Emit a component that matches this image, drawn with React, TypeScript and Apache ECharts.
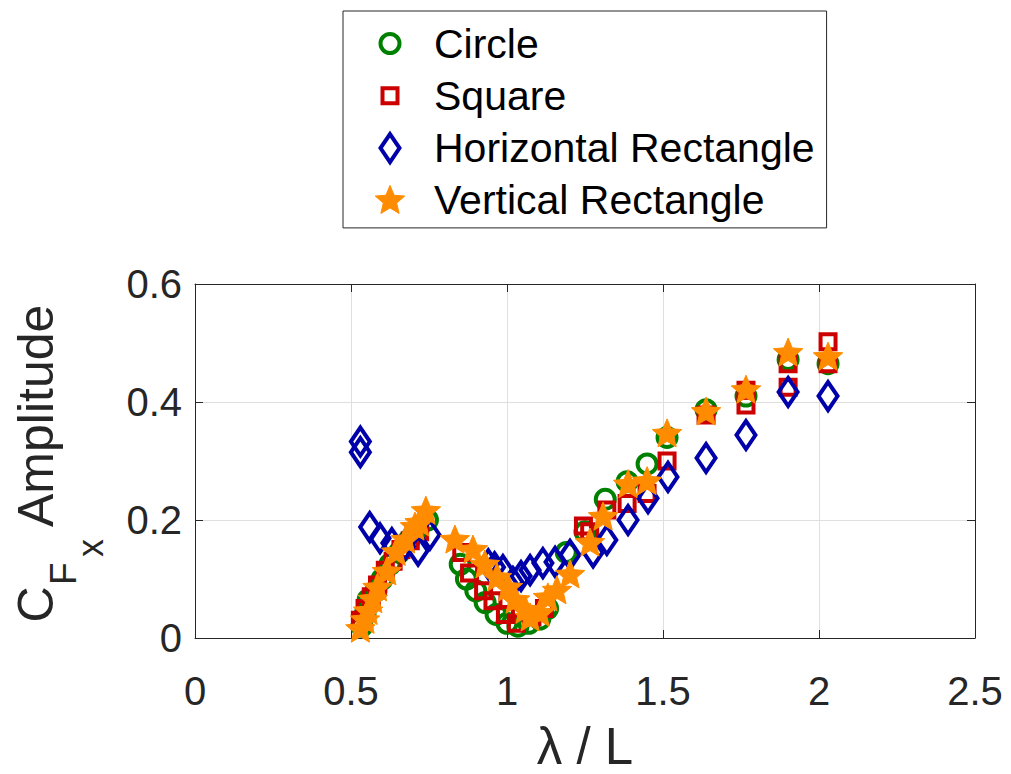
import React, { useEffect, useRef } from "react";
import * as echarts from "echarts";

// ---------- data ----------
const xTicks = [0, 0.5, 1, 1.5, 2, 2.5];
const yTicks = [0, 0.2, 0.4, 0.6];
const seriesNames = ["Circle", "Square", "Horizontal Rectangle", "Vertical Rectangle"];

const circleData = [
  [0.535, 0.02], [0.545, 0.04], [0.555, 0.065], [0.58, 0.08], [0.6, 0.1], [0.625, 0.125],
  [0.655, 0.145], [0.685, 0.165], [0.715, 0.185], [0.745, 0.2],
  [0.85, 0.125], [0.87, 0.1], [0.9, 0.08], [0.93, 0.06], [0.965, 0.04], [1.0, 0.025],
  [1.035, 0.02], [1.07, 0.025], [1.105, 0.032], [1.13, 0.05], [1.19, 0.145], [1.25, 0.18],
  [1.315, 0.235], [1.385, 0.265], [1.449, 0.295], [1.513, 0.34], [1.638, 0.387],
  [1.766, 0.41], [1.901, 0.472], [2.029, 0.465],
];

const squareData = [
  [0.53, 0.03], [0.545, 0.05], [0.565, 0.07], [0.585, 0.09], [0.61, 0.115], [0.635, 0.13],
  [0.66, 0.15], [0.69, 0.165], [0.72, 0.18],
  [0.855, 0.145], [0.88, 0.11], [0.925, 0.08], [0.955, 0.063], [0.995, 0.04], [1.03, 0.025],
  [1.08, 0.036], [1.12, 0.05], [1.245, 0.19], [1.265, 0.18], [1.32, 0.217], [1.385, 0.228],
  [1.449, 0.245], [1.513, 0.3], [1.638, 0.378], [1.766, 0.42], [1.766, 0.395],
  [1.901, 0.465], [1.901, 0.425], [2.029, 0.502], [2.029, 0.465],
];

const diamondData = [
  [0.53, 0.333], [0.53, 0.315], [0.56, 0.188], [0.593, 0.169], [0.631, 0.161], [0.67, 0.155],
  [0.715, 0.148], [0.753, 0.175],
  [0.94, 0.125], [0.96, 0.12], [0.987, 0.115], [1.019, 0.095], [1.045, 0.105], [1.074, 0.115],
  [1.115, 0.127], [1.154, 0.129], [1.202, 0.141], [1.276, 0.145], [1.32, 0.166], [1.388, 0.2],
  [1.452, 0.237], [1.516, 0.273], [1.638, 0.305], [1.766, 0.344], [1.901, 0.417], [2.029, 0.41],
];

const starData = [
  [0.53, 0.015], [0.545, 0.03], [0.555, 0.045], [0.57, 0.065], [0.585, 0.085], [0.615, 0.112],
  [0.645, 0.145], [0.675, 0.166], [0.705, 0.188], [0.72, 0.195], [0.74, 0.215],
  [0.833, 0.166], [0.891, 0.149], [0.929, 0.124], [0.968, 0.102], [1.003, 0.085], [1.026, 0.064],
  [1.058, 0.047], [1.074, 0.034], [1.106, 0.042], [1.131, 0.068], [1.16, 0.08], [1.202, 0.107],
  [1.266, 0.161], [1.308, 0.205], [1.388, 0.26], [1.449, 0.265], [1.513, 0.346], [1.638, 0.383],
  [1.766, 0.42], [1.901, 0.483], [2.029, 0.476],
];

// ---------- styling ----------
const FONT = "'Liberation Sans', Arial, Helvetica, sans-serif";
const AXIS_COLOR = "#262626";
const GRID_COLOR = "#dfdfdf";

// Symbol paths drawn inside a fixed 36x36 box (the lone moveTo points fix the bounding box)
const BOX = "M0 0 M36 36 ";
const circlePath = "path://" + BOX + "M8.5 18 A9.5 9.5 0 1 1 27.5 18 A9.5 9.5 0 1 1 8.5 18 Z";
const squarePath = "path://" + BOX + "M10.5 10.5 L25.5 10.5 L25.5 25.5 L10.5 25.5 Z";
const diamondPath = "path://" + BOX + "M18 4 L27.5 18 L18 32 L8.5 18 Z";
function makeStar(cx: number, cy: number, R: number, r: number) {
  let d = "";
  for (let k = 0; k < 10; k++) {
    const rad = k % 2 === 0 ? R : r;
    const a = (-90 + 36 * k) * Math.PI / 180;
    const px = (cx + rad * Math.cos(a)).toFixed(2);
    const py = (cy + rad * Math.sin(a)).toFixed(2);
    d += (k === 0 ? "M" : "L") + px + " " + py + " ";
  }
  return d + "Z";
}
const starPath = "path://" + BOX + makeStar(18, 18.5, 15.5, 7.0);

const seriesData = [circleData, squareData, diamondData, starData];
const seriesSymbols = [circlePath, squarePath, diamondPath, starPath];
const seriesStyles = [
  { color: "rgba(0,0,0,0)", borderColor: "#008000", borderWidth: 4 },
  { color: "rgba(0,0,0,0)", borderColor: "#cc0000", borderWidth: 4 },
  { color: "rgba(0,0,0,0)", borderColor: "#0000aa", borderWidth: 4 },
  { color: "#ff8c00", borderColor: "#ff8c00", borderWidth: 1 },
];

export default function App() {
  const ref = useRef<HTMLDivElement>(null);

  useEffect(() => {
    document.body.style.margin = "0";
    const chart = echarts.init(ref.current as HTMLDivElement, null, { renderer: "svg" });

    const xMin = xTicks[0];
    const xMax = xTicks[xTicks.length - 1];
    const xInt = xTicks[1] - xTicks[0];
    const yMin = yTicks[0];
    const yMax = yTicks[yTicks.length - 1];
    const yInt = yTicks[1] - yTicks[0];

    const option: any = {
      animation: false,
      backgroundColor: "#ffffff",
      grid: { left: 195, right: 36, top: 284, bottom: 136, containLabel: false },
      legend: {
        orient: "vertical",
        left: 343,
        top: 11,
        padding: [12, 12, 7, 27],
        itemGap: 11.3,
        itemWidth: 78,
        itemHeight: 36,
        borderColor: AXIS_COLOR,
        borderWidth: 1,
        backgroundColor: "#ffffff",
        selectedMode: false,
        textStyle: { fontFamily: FONT, fontSize: 41, color: "#000000" },
        itemStyle: { borderWidth: 4, borderJoin: "miter" },
        data: seriesNames.map((name, i) => ({
          name,
          itemStyle: { borderWidth: seriesStyles[i].borderWidth, borderJoin: "miter" },
        })),
      },
      xAxis: [
        {
          type: "value",
          min: xMin,
          max: xMax,
          interval: xInt,
          position: "bottom",
          name: "λ / L",
          nameLocation: "middle",
          nameGap: 82.5,
          nameTextStyle: { fontFamily: FONT, fontSize: 51, color: AXIS_COLOR },
          axisLine: { show: true, onZero: false, lineStyle: { color: AXIS_COLOR, width: 1 } },
          axisTick: { show: true, inside: true, length: 8, lineStyle: { color: AXIS_COLOR } },
          axisLabel: { fontFamily: FONT, fontSize: 40, color: AXIS_COLOR, margin: 33 },
          splitLine: { show: true, lineStyle: { color: GRID_COLOR, width: 1 } },
        },
        {
          type: "value",
          min: xMin,
          max: xMax,
          interval: xInt,
          position: "top",
          axisLine: { show: true, onZero: false, lineStyle: { color: AXIS_COLOR, width: 1 } },
          axisTick: { show: true, inside: true, length: 8, lineStyle: { color: AXIS_COLOR } },
          axisLabel: { show: false },
          splitLine: { show: false },
        },
      ],
      yAxis: [
        {
          type: "value",
          min: yMin,
          max: yMax,
          interval: yInt,
          position: "left",
          axisLine: { show: true, onZero: false, lineStyle: { color: AXIS_COLOR, width: 1 } },
          axisTick: { show: true, inside: true, length: 8, lineStyle: { color: AXIS_COLOR } },
          axisLabel: {
            fontFamily: FONT,
            fontSize: 40,
            color: AXIS_COLOR,
            margin: 13,
            padding: [10, 0, 0, 0],
          },
          splitLine: { show: true, lineStyle: { color: GRID_COLOR, width: 1 } },
        },
        {
          type: "value",
          min: yMin,
          max: yMax,
          interval: yInt,
          position: "right",
          axisLine: { show: true, onZero: false, lineStyle: { color: AXIS_COLOR, width: 1 } },
          axisTick: { show: true, inside: true, length: 8, lineStyle: { color: AXIS_COLOR } },
          axisLabel: { show: false },
          splitLine: { show: false },
        },
      ],
      graphic: [
        {
          type: "group",
          x: 0,
          y: 774,
          rotation: Math.PI / 2,
          children: [
            {
              type: "text",
              x: 151.5,
              y: 35.7,
              style: {
                text: "C", fontFamily: FONT, fontSize: 50, fill: AXIS_COLOR,
                align: "left", verticalAlign: "middle", textAlign: "left", textVerticalAlign: "middle",
              },
            },
            {
              type: "text",
              x: 189,
              y: 63.2,
              style: {
                text: "F", fontFamily: FONT, fontSize: 37, fill: AXIS_COLOR,
                align: "left", verticalAlign: "middle", textAlign: "left", textVerticalAlign: "middle",
              },
            },
            {
              type: "text",
              x: 217,
              y: 90.5,
              style: {
                text: "x", fontFamily: FONT, fontSize: 36, fill: AXIS_COLOR,
                align: "left", verticalAlign: "middle", textAlign: "left", textVerticalAlign: "middle",
              },
            },
            {
              type: "text",
              x: 247,
              y: 35.7,
              style: {
                text: "Amplitude", fontFamily: FONT, fontSize: 50, fill: AXIS_COLOR,
                align: "left", verticalAlign: "middle", textAlign: "left", textVerticalAlign: "middle",
              },
            },
          ],
        },
      ],
      series: seriesNames.map((name, i) => ({
        type: "scatter",
        name,
        data: seriesData[i],
        xAxisIndex: 0,
        yAxisIndex: 0,
        symbol: seriesSymbols[i],
        symbolSize: 36,
        itemStyle: { ...seriesStyles[i], borderJoin: "miter", borderMiterLimit: 10, opacity: 1 },
        emphasis: { disabled: true },
        z: 2 + i,
      })),
    };

    chart.setOption(option);
    return () => chart.dispose();
  }, []);

  return (
    <div
      ref={ref}
      style={{ position: "absolute", left: 0, top: 0, width: 1011, height: 774, background: "#ffffff" }}
    />
  );
}
